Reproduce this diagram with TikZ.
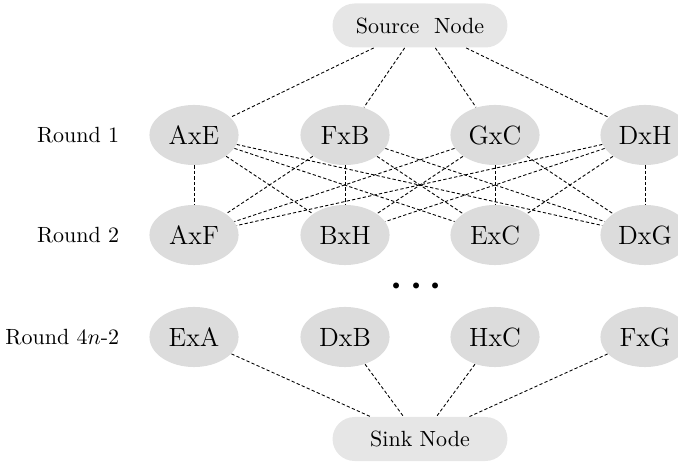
\documentclass[tikz,border=0pt]{standalone}
\usepackage{amsmath}
\usepackage{tikz}
\usetikzlibrary{shapes.geometric}
\definecolor{pairgray}{RGB}{220,220,220}
\definecolor{endgray}{RGB}{230,230,230}

\begin{document}
\begin{tikzpicture}[x=0.4545pt,y=-0.4545pt,
  pair/.style={ellipse,fill=pairgray,minimum width=40.5pt,minimum height=27.3pt,inner sep=0pt,font=\large},
  terminal/.style={rectangle,rounded corners=10pt,fill=endgray,minimum width=79.5pt,minimum height=20pt},
  link/.style={dash pattern=on 1.5pt off 1pt,line width=0.4pt}]
\useasboundingbox (0,0) rectangle (678,465);

% source and sink
\node[terminal] (source) at (420,25.5) {Source\ \ Node};
\node[terminal] (sink) at (420,439) {Sink Node};

% round labels
\node[anchor=east] (lab1) at (127,135) {Round 1};
\node[anchor=east] (lab2) at (127,235) {Round 2};
\node[anchor=east] (lab3) at (127,337) {Round $4n$-2};

% matches of each round
\node[pair] (AxE) at (194,135) {AxE};
\node[pair] (FxB) at (345,135) {FxB};
\node[pair] (GxC) at (495,135) {GxC};
\node[pair] (DxH) at (645,135) {DxH};

\node[pair] (AxF) at (194,235) {AxF};
\node[pair] (BxH) at (345,235) {BxH};
\node[pair] (ExC) at (495,235) {ExC};
\node[pair] (DxG) at (645,235) {DxG};

\node (dots) at (420,286) {\LARGE $\boldsymbol{\cdots}$};

\node[pair] (ExA) at (194,337) {ExA};
\node[pair] (DxB) at (345,337) {DxB};
\node[pair] (HxC) at (495,337) {HxC};
\node[pair] (FxG) at (645,337) {FxG};

% connections
\foreach \s in {AxE,FxB,GxC,DxH}
  \draw[link] (source) -- (\s);
\foreach \a in {AxE,FxB,GxC,DxH}
  \foreach \b in {AxF,BxH,ExC,DxG}
    \draw[link] (\a) -- (\b);
\foreach \t in {ExA,DxB,HxC,FxG}
  \draw[link] (\t) -- (sink);
\end{tikzpicture}
\end{document}
